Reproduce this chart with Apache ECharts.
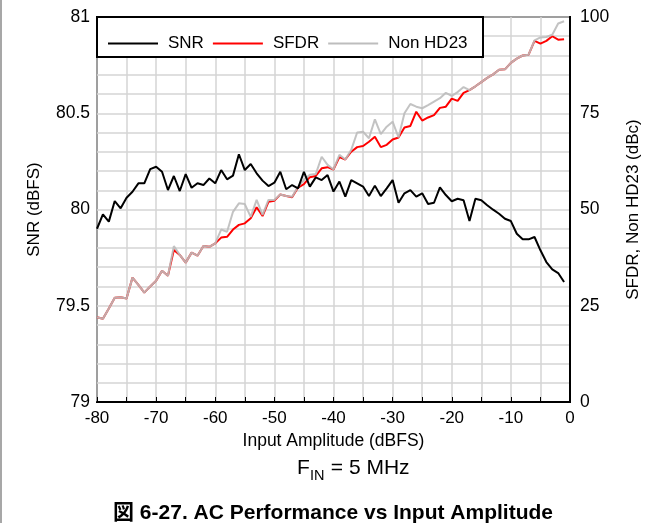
<!DOCTYPE html>
<html>
<head>
<meta charset="utf-8">
<script src="https://cdn.jsdelivr.net/npm/echarts@6/dist/echarts.min.js"></script>
<style>
html,body{margin:0;padding:0;background:#fff;}
#chart{width:661px;height:523px;}
</style>
</head>
<body>
<div id="chart"></div>
<script>
// Input amplitude (dBFS)
var amplitude = [-80,-79,-78,-77,-76,-75,-74,-73,-72,-71,-70,-69,-68,-67,-66,-65,-64,-63,-62,-61,
  -60,-59,-58,-57,-56,-55,-54,-53,-52,-51,-50,-49,-48,-47,-46,-45,-44,-43,-42,-41,
  -40,-39,-38,-37,-36,-35,-34,-33,-32,-31,-30,-29,-28,-27,-26,-25,-24,-23,-22,-21,
  -20,-19,-18,-17,-16,-15,-14,-13,-12,-11,-10,-9,-8,-7,-6,-5,-4,-3,-2,-1];

// SNR (dBFS), left axis
var snr = [79.90,79.975,79.937,80.044,80.006,80.061,80.092,80.136,80.136,80.21,80.222,80.196,80.101,80.174,80.096,80.184,80.113,80.136,80.127,80.161,
  80.136,80.205,80.157,80.176,80.287,80.205,80.236,80.188,80.15,80.122,80.139,80.196,80.105,80.127,80.11,80.196,80.119,80.167,80.153,80.179,
  80.093,80.145,80.067,80.153,80.136,80.119,80.07,80.124,80.07,80.11,80.153,80.035,80.084,80.101,80.067,80.084,80.029,80.035,80.115,80.075,
  80.043,80.056,80.048,79.94,80.056,80.048,80.022,79.999,79.978,79.952,79.94,79.874,79.845,79.845,79.857,79.788,79.727,79.689,79.67,79.623];

// SFDR (dBc), right axis
var sfdr = [22.0,21.6,24.3,27.1,27.2,26.9,32.3,30.4,28.4,30.0,31.5,34.1,32.8,39.5,38.2,36.2,38.8,38.0,40.5,40.3,
  41.2,42.7,42.9,44.8,46.0,46.4,47.7,50.6,48.3,52.0,52.3,53.9,53.5,53.2,55.7,56.6,58.4,58.7,60.7,61.0,
  60.4,63.6,63.0,65.0,66.2,66.5,67.6,68.9,66.2,66.8,68.2,68.7,71.3,71.7,75.4,73.1,73.9,74.5,76.4,76.7,
  78.8,78.2,80.3,81.0,82.0,83.1,84.2,85.1,86.3,86.4,88.1,89.2,90.0,90.2,93.8,93.1,93.8,95.0,94.1,94.2];

// Non HD23 (dBc), right axis
var nonHD23 = [22.0,21.6,24.3,27.1,27.2,26.9,32.3,30.4,28.4,30.0,31.5,34.1,32.8,40.5,38.2,36.2,38.8,38.0,40.5,40.3,
  41.2,44.8,44.2,49.4,51.6,51.4,48.1,52.5,48.6,52.5,52.5,53.9,53.5,53.3,55.9,57.7,59.0,59.2,63.7,61.6,
  60.4,64.2,63.0,65.5,70.0,70.2,68.5,73.4,69.6,71.5,72.8,68.7,75.0,77.4,76.7,76.3,77.1,78.0,78.9,80.3,
  79.5,80.5,81.8,81.0,82.0,83.1,84.2,85.1,86.3,86.4,88.1,89.2,90.0,90.2,93.9,94.7,94.8,95.4,98.3,98.9];

var seriesNames = ['SNR', 'SFDR', 'Non HD23'];

function pairs(xs, ys) { return xs.map(function (x, i) { return [x, ys[i]]; }); }

var FONT = '"Liberation Sans", Arial, "Noto Sans CJK JP", sans-serif';
var chart = echarts.init(document.getElementById('chart'), null, {renderer: 'canvas'});

chart.setOption({
  backgroundColor: '#ffffff',
  animation: false,
  textStyle: {fontFamily: FONT, color: '#000'},
  grid: {left: 97, right: 91, top: 17, bottom: 121, show: true, borderColor: '#000', borderWidth: 2, backgroundColor: 'transparent'},
  legend: {
    data: seriesNames,
    left: 108, top: 35,
    padding: 0,
    icon: 'rect',
    itemWidth: 50, itemHeight: 2, itemGap: 9,
    textStyle: {fontFamily: FONT, fontSize: 17, color: '#000', padding: [0, 0, 0, 5]},
    z: 10
  },
  xAxis: {
    type: 'value', min: -80, max: 0, interval: 5,
    name: 'Input Amplitude (dBFS)', nameLocation: 'middle', nameGap: 30,
    nameTextStyle: {fontFamily: FONT, fontSize: 17.5, color: '#000'},
    axisLine: {show: true, lineStyle: {color: '#000', width: 2}},
    axisTick: {show: true, inside: true, length: 5, lineStyle: {color: '#000', width: 1}},
    axisLabel: {fontFamily: FONT, fontSize: 17, color: '#000', margin: 8,
      formatter: function (v) { return (Math.round(v) % 10 === 0) ? String(Math.round(v)) : ''; }},
    splitLine: {show: true, lineStyle: {color: '#d4d4d4', width: 1.5}}
  },
  yAxis: [{
    type: 'value', min: 79, max: 81, interval: 0.1, position: 'left',
    name: 'SNR (dBFS)', nameLocation: 'middle', nameGap: 54, nameRotate: 90,
    nameTextStyle: {fontFamily: FONT, fontSize: 17, color: '#000'},
    axisLine: {show: true, lineStyle: {color: '#000', width: 2}},
    axisTick: {show: false},
    axisLabel: {fontFamily: FONT, fontSize: 17.5, color: '#000', margin: 7,
      formatter: function (v) {
        var d = v * 2;
        if (Math.abs(d - Math.round(d)) < 1e-6) { return String(Math.round(d) / 2); }
        return '';
      }},
    splitLine: {show: true, lineStyle: {color: '#d4d4d4', width: 1.5}}
  }, {
    type: 'value', min: 0, max: 100, interval: 25, position: 'right',
    name: 'SFDR, Non HD23 (dBc)', nameLocation: 'middle', nameGap: 55, nameRotate: 90,
    nameTextStyle: {fontFamily: FONT, fontSize: 17, color: '#000'},
    axisLine: {show: true, lineStyle: {color: '#000', width: 2}},
    axisTick: {show: false},
    axisLabel: {fontFamily: FONT, fontSize: 17.5, color: '#000', margin: 10},
    splitLine: {show: false}
  }],
  graphic: [
    {type: 'line', z: 0, shape: {x1: 1, y1: 0, x2: 1, y2: 523}, style: {stroke: '#8a8a8a', lineWidth: 1.5}},
    {type: 'rect', z: 1, shape: {x: 97, y: 17, width: 386, height: 40}, style: {fill: '#fff', stroke: '#000', lineWidth: 2}},
    {type: 'text', z: 5, x: 297, y: 479, style: {text: 'F', font: '21px "Liberation Sans", Arial, sans-serif', fill: '#000', textVerticalAlign: 'bottom', textAlign: 'left'}},
    {type: 'text', z: 5, x: 310, y: 483, style: {text: 'IN', font: '14.5px "Liberation Sans", Arial, sans-serif', fill: '#000', textVerticalAlign: 'bottom', textAlign: 'left'}},
    {type: 'text', z: 5, x: 325, y: 479, style: {text: ' = 5 MHz', font: '21px "Liberation Sans", Arial, sans-serif', fill: '#000', textVerticalAlign: 'bottom', textAlign: 'left'}},
    {type: 'text', z: 5, x: 333, y: 513, style: {
      text: '図 6-27. AC Performance vs Input Amplitude',
      font: 'bold 21px "Liberation Sans", Arial, "Noto Sans CJK JP", sans-serif', fill: '#000',
      textAlign: 'center', textVerticalAlign: 'middle'
    }}
  ],
  series: [
    {name: 'SNR', type: 'line', yAxisIndex: 0, symbol: 'none', data: pairs(amplitude, snr),
      lineStyle: {color: '#000', width: 2}, itemStyle: {color: '#000'}, z: 3},
    {name: 'SFDR', type: 'line', yAxisIndex: 1, symbol: 'none', data: pairs(amplitude, sfdr),
      lineStyle: {color: '#ff0000', width: 2}, itemStyle: {color: '#ff0000'}, z: 2},
    {name: 'Non HD23', type: 'line', yAxisIndex: 1, symbol: 'none', data: pairs(amplitude, nonHD23),
      lineStyle: {color: '#bdbdbd', width: 2, opacity: 0.9}, itemStyle: {color: '#bdbdbd'}, z: 2}
  ]
});
</script>
</body>
</html>
